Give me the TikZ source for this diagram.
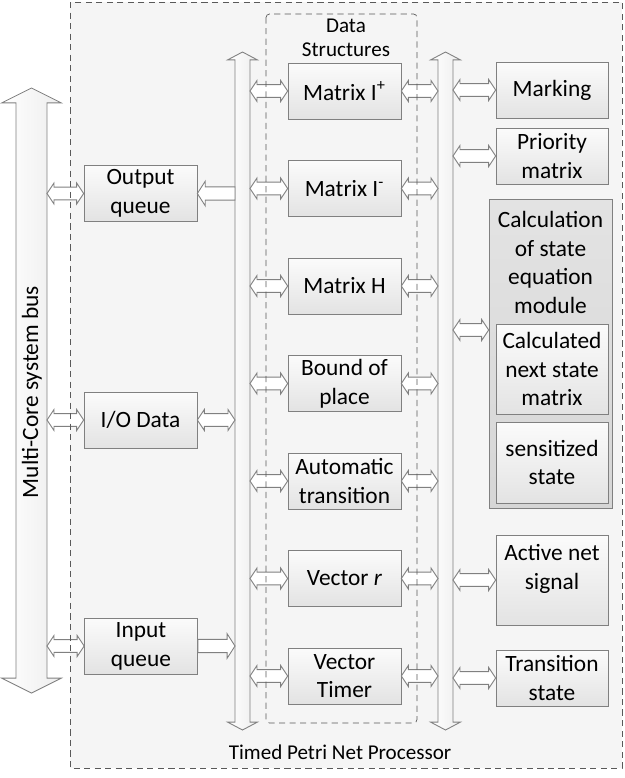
\documentclass[tikz,border=0pt]{standalone}
\usepackage{fontspec}
\setmainfont{Carlito}
\usetikzlibrary{calc}

\tikzset{
  blk/.style={draw=black!50, top color=gray!3, bottom color=gray!22, minimum width=2.26cm, minimum height=1.12cm, align=center, inner sep=1pt},
  modbox/.style={draw=black!50, top color=gray!22, bottom color=gray!32, minimum width=2.46cm, minimum height=6.18cm},
  blkarr/.style={draw=black!50, fill=white, line width=0.5pt},
  busarr/.style={draw=black!50, left color=white, right color=gray!14, line width=0.5pt},
  dsh/.style={draw=black!65, dash pattern=on 3.5pt off 2.5pt},
}

% double block arrow between two points at the same height
\newcommand{\dblarrow}[2]{%
  \draw[blkarr] let \p1=#1, \p2=#2, \n1={sign(\x2-\x1)} in
    (\x1,\y1) -- (\x1+\n1*4pt,\y1+6pt) -- (\x1+\n1*4pt,\y1+3.6pt) -- (\x2-\n1*4pt,\y1+3.6pt) -- (\x2-\n1*4pt,\y1+6pt) -- (\x2,\y1)
    -- (\x2-\n1*4pt,\y1-6pt) -- (\x2-\n1*4pt,\y1-3.6pt) -- (\x1+\n1*4pt,\y1-3.6pt) -- (\x1+\n1*4pt,\y1-6pt) -- cycle;}
% single block arrow from #1 to #2
\newcommand{\sglarrow}[2]{%
  \draw[blkarr] let \p1=#1, \p2=#2, \n1={sign(\x2-\x1)} in
    (\x1,\y1+3.8pt) -- (\x2-\n1*4.5pt,\y1+3.8pt) -- (\x2-\n1*4.5pt,\y1+7pt) -- (\x2,\y1)
    -- (\x2-\n1*4.5pt,\y1-7pt) -- (\x2-\n1*4.5pt,\y1-3.8pt) -- (\x1,\y1-3.8pt) -- cycle;}
% vertical bus: top, bottom, shaft half width, head half width, head length
\newcommand{\busarrow}[5]{%
  \draw[busarr] let \p1=#1, \p2=#2 in
    (\x1,\y1) -- (\x1+#4,\y1-#5) -- (\x1+#3,\y1-#5) -- (\x1+#3,\y2+#5) -- (\x1+#4,\y2+#5) -- (\x1,\y2)
    -- (\x1-#4,\y2+#5) -- (\x1-#3,\y2+#5) -- (\x1-#3,\y1-#5) -- (\x1-#4,\y1-#5) -- cycle;}

\begin{document}
\begin{tikzpicture}[x=0.02cm, y=-0.02cm, font=\fontsize{13.3}{16.4}\selectfont]
  \useasboundingbox (0,0) rectangle (625,778);
  \fill[gray!8] (70,2) rectangle (622,768);
  \node (tpnp) at (340,752) {\fontsize{12}{14}\selectfont Timed Petri Net Processor};

  % buses
  \coordinate (busT) at (31.5,88);   \coordinate (busB) at (31.5,693);
  \coordinate (busLT) at (242.5,52); \coordinate (busLB) at (242.5,730);
  \coordinate (busRT) at (445.5,52); \coordinate (busRB) at (445.5,730);
  \coordinate (busE) at (47,0);
  \coordinate (busLW) at (235,0); \coordinate (busLE) at (250,0);
  \coordinate (busRW) at (438,0); \coordinate (busRE) at (453,0);
  \busarrow{(busT)}{(busB)}{8.8pt}{17pt}{8.5pt}
  \busarrow{(busLT)}{(busLB)}{4.3pt}{8.5pt}{4.5pt}
  \busarrow{(busRT)}{(busRB)}{4.3pt}{8.5pt}{4.5pt}
  \node (mcsb) [rotate=90] at (32,392) {Multi-Core system bus};

  % left column
  \node (oq) [blk] at (140.5,193.5) {Output\\queue};
  \node (io) [blk] at (140.5,420) {I/O Data};
  \node (iq) [blk] at (141,646) {Input\\queue};

  % data structures
  \node (mip) [blk] at (344.5,91) {Matrix I\textsuperscript{+}};
  \node (mim) [blk] at (344.5,188.5) {Matrix I\textsuperscript{-}};
  \node (mh) [blk] at (344.5,286) {Matrix H};
  \node (bp) [blk] at (344.5,383.5) {Bound of\\place};
  \node (at) [blk] at (344.5,481) {Automatic\\transition};
  \node (vr) [blk] at (344.5,578.5) {Vector \textit{r}};
  \node (vt) [blk] at (344.5,676) {Vector\\Timer};

  % right column
  \node (mark) [blk, minimum width=2.24cm] at (552,90) {Marking};
  \node (prio) [blk, minimum width=2.24cm] at (552,156) {Priority\\matrix};
  \node (calc) [modbox] at (550.5,353.5) {};
  \node (calct) [align=center] at (550.5,262.5) {Calculation\\of state\\equation\\module};
  \node (nxt) [blk, minimum width=2.24cm, minimum height=1.8cm] at (552,369) {Calculated\\next state\\matrix};
  \node (sens) [blk, minimum width=2.24cm, minimum height=1.62cm] at (552,462.5) {sensitized\\state};
  \node (act) [blk, minimum width=2.24cm, minimum height=1.8cm] at (552,580) {};
  \node (actt) [align=center] at (552,569) {Active net\\signal};
  \node (trans) [blk, minimum width=2.24cm] at (552,678) {Transition\\state};

  % connectors
  \dblarrow{(oq.west -| busE)}{(oq.west)}
  \sglarrow{(oq.east -| busLW)}{(oq.east)}
  \dblarrow{(io.west -| busE)}{(io.west)}
  \dblarrow{(io.east)}{(io.east -| busLW)}
  \dblarrow{(iq.west -| busE)}{(iq.west)}
  \sglarrow{(iq.east)}{(iq.east -| busLW)}
  \foreach \m in {mip,mim,mh,bp,at,vr,vt} {
    \dblarrow{(\m.west -| busLE)}{(\m.west)}
    \dblarrow{(\m.east)}{(\m.east -| busRW)}
  }
  \foreach \m in {mark,prio,act,trans}
    \dblarrow{(\m.west -| busRE)}{(\m.west)};
  \coordinate (calcin) at ([yshift=0.47cm]calc.west);
  \dblarrow{(calcin -| busRE)}{(calcin)}

  % dashed frames on top
  \draw[dsh] (70,2) rectangle (622,768);
  \draw[dsh, rounded corners=2pt] (266,14) rectangle (417,723);
  \node (ds) [align=center, font=\fontsize{12}{13.6}\selectfont] at (346,38) {Data\\Structures};
\end{tikzpicture}
\end{document}
